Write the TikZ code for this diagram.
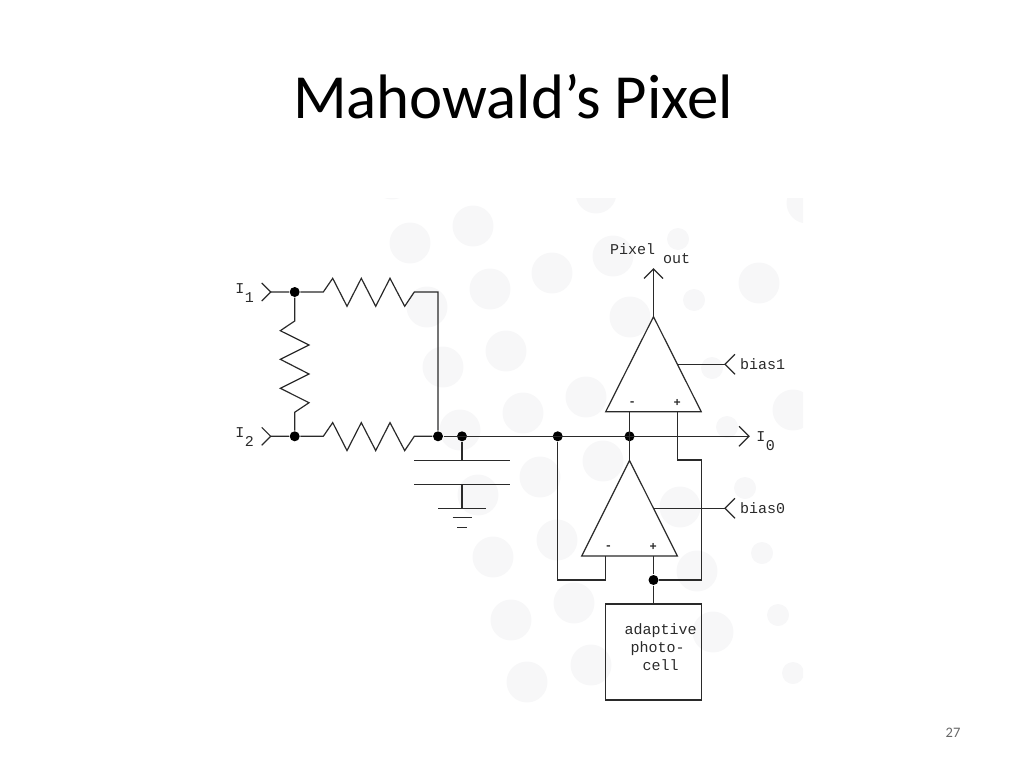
\documentclass[tikz,border=0pt]{standalone}
\usepackage{fontspec}
\setmainfont{Carlito}
\setmonofont{Liberation Mono}
\definecolor{wire}{HTML}{2A2A2A}
\definecolor{spot}{HTML}{F7F7F8}
\begin{document}
\begin{tikzpicture}[x=1pt,y=-1pt,line width=1.2pt]
        \tikzstyle{solid node}=[circle,fill=black,inner sep=0,minimum size=10pt]
        \tikzstyle{wire line}=[draw=wire,line join=miter]
        \tikzstyle{mono label}=[font=\ttfamily\fontsize{15}{18}\selectfont,text=wire,inner sep=0]
        \tikzstyle{sign label}=[font=\ttfamily\bfseries\fontsize{12}{12}\selectfont,text=wire,inner sep=0]
        \useasboundingbox (0,0) rectangle (1024,768);

        % Background spots
        \begin{scope}
            \clip (200,198) rectangle (803,768);
            \foreach \x/\y in {410/243,473/226,490/289,427/307,506/351,443/367,460/430,523/413,
                    478/495,596/193,552/273,613/256,759/283,630/317,586/397,793/410,603/461,
                    540/477,680/507,557/540,493/557,697/571,574/603,511/620,713/632,591/665,
                    527/682,807/203,392/179}
                \fill[spot] (\x,\y) circle (20.5);
            \foreach \x/\y in {678/239,694/300,712/368,727/427,745/488,762/553,778/615,793/673}
                \fill[spot] (\x,\y) circle (11);
        \end{scope}

        % Title and page number
        \node (title) at (513,97) {\fontsize{62.8}{66}\selectfont Mahowald’s Pixel};
        \node (page) at (953,733) [text=black!60] {\fontsize{14.5}{16}\selectfont 27};

        % Junctions
        \node (n1) at (294.7,292) [solid node] {};
        \node (n2) at (294.7,436.3) [solid node] {};
        \node (nsum) at (438,436.3) [solid node] {};
        \node (ncap) at (462,436.3) [solid node] {};
        \node (nfb) at (557.7,436.3) [solid node] {};
        \node (nminus) at (629.5,436.3) [solid node] {};
        \node (nplus) at (653.5,580) [solid node] {};

        % Terminals
        \coordinate (i1) at (270.7,292);
        \coordinate (i2) at (270.7,436.3);
        \coordinate (i0) at (749,436.3);
        \coordinate (pixout) at (653.5,269);
        \coordinate (b1) at (725,364.3);
        \coordinate (b0) at (725,508.3);

        % Amplifier corners and pins
        \coordinate (uTop) at (653.5,316.7);
        \coordinate (uL) at (605.7,411.7);
        \coordinate (uR) at (701.2,411.7);
        \coordinate (uMinus) at (629.5,411.7);
        \coordinate (uPlus) at (677.4,411.7);
        \coordinate (uBias) at (677.4,364.3);
        \coordinate (lTop) at (629.5,460.5);
        \coordinate (lL) at (581.7,556);
        \coordinate (lR) at (677.4,556);
        \coordinate (lMinus) at (605.7,556);
        \coordinate (lPlus) at (653.5,556);
        \coordinate (lBias) at (653.6,508.3);

        % Bias, input and output chevrons
        \draw[wire line] (i1) ++(-9,-9) -- (i1) -- ++(-9,9);
        \draw[wire line] (i2) ++(-9,-9) -- (i2) -- ++(-9,9);
        \draw[wire line] (i0) ++(-10,-10) -- (i0) -- ++(-10,10);
        \draw[wire line] (pixout) ++(-9.5,9.5) -- (pixout) -- ++(9.5,9.5);
        \draw[wire line] (b1) ++(10,-10) -- (b1) -- ++(10,10);
        \draw[wire line] (b0) ++(10,-10) -- (b0) -- ++(10,10);

        % Resistors
        \draw[wire line] (i1) -- (n1) -- ++(28.6,0) -- ++(9.4,-13.7)
            -- ++(14.3,28) -- ++(14.3,-28) -- ++(14.4,28) -- ++(14.3,-28) -- ++(14.7,28) -- ++(9.6,-14.3)
            -| (nsum);
        \draw[wire line] (i2) -- (n2) -- ++(28.6,0) -- ++(9.4,-13.7)
            -- ++(14.3,28) -- ++(14.3,-28) -- ++(14.4,28) -- ++(14.3,-28) -- ++(14.7,28) -- ++(9.6,-14.3)
            -- (nsum);
        \draw[wire line] (n1) -- ++(0,29) -- ++(-14.4,9.7)
            -- ++(28.7,14.3) -- ++(-28.7,14.3) -- ++(28.7,14.7) -- ++(-28.7,14.3) -- ++(28.7,14.4) -- ++(-14.3,9.6)
            -- (n2);

        % Main line and capacitor
        \coordinate (capA) at (462,460.3);
        \coordinate (capB) at (462,484.3);
        \coordinate (gnd) at (462,508.3);
        \draw[wire line] (nsum) -- (i0);
        \draw[wire line] (ncap) -- (capA);
        \draw[wire line] (capA) ++(-48,0) -- ++(96,0);
        \draw[wire line] (capB) ++(-48,0) -- ++(96,0);
        \draw[wire line] (capB) -- (gnd);
        \draw[wire line] (gnd) ++(-24,0) -- ++(48,0);
        \draw[wire line] (gnd) ++(-9.5,9.4) -- ++(19,0);
        \draw[wire line] (gnd) ++(-4.7,19) -- ++(9.4,0);

        % Amplifiers
        \draw[wire line] (uTop) -- (uL) -- (uR) -- cycle;
        \draw[wire line] (lTop) -- (lL) -- (lR) -- cycle;
        \draw[wire line] (uTop) -- (pixout);
        \draw[wire line] (uBias) -- (b1);
        \draw[wire line] (lBias) -- (b0);
        \draw[wire line] (uMinus) -- (lTop);
        \draw[wire line] (nfb) |- ++(48,143.7) -- (lMinus);
        \draw[wire line] (uPlus) |- ++(23.9,48.3) |- (nplus);
        \draw[wire line] (lPlus) -- (nplus);

        % Photocell
        \node (cell) at (653.5,652) [draw=wire,minimum width=95.6pt,minimum height=96pt,inner sep=0] {};
        \draw[wire line] (nplus) -- (cell.north);
        \node (celltext) at (660.5,647) [mono label,align=left]
            {adaptive\\ \kern6pt photo-\\ \kern18pt cell};

        % Labels
        \node (l1) at (244.5,293) [mono label] {I\raisebox{-9pt}{\kern0.5pt 1}};
        \node (l2) at (244.5,437.5) [mono label] {I\raisebox{-9pt}{\kern0.5pt 2}};
        \node (l0) at (765.5,441) [mono label] {I\raisebox{-9pt}{\kern0.5pt 0}};
        \node (lpix) at (632.5,249) [mono label] {Pixel};
        \node (lout) at (676.5,259) [mono label] {out};
        \node (lb1) at (762.5,364.5) [mono label] {bias1};
        \node (lb0) at (762.5,508.5) [mono label] {bias0};
        \node (sgn1) at (632.3,403.5) [sign label] {-};
        \node (sgn2) at (677.3,403.3) [sign label] {+};
        \node (sgn3) at (608.5,547.5) [sign label] {-};
        \node (sgn4) at (653.3,547.3) [sign label] {+};
    \end{tikzpicture}
\end{document}
